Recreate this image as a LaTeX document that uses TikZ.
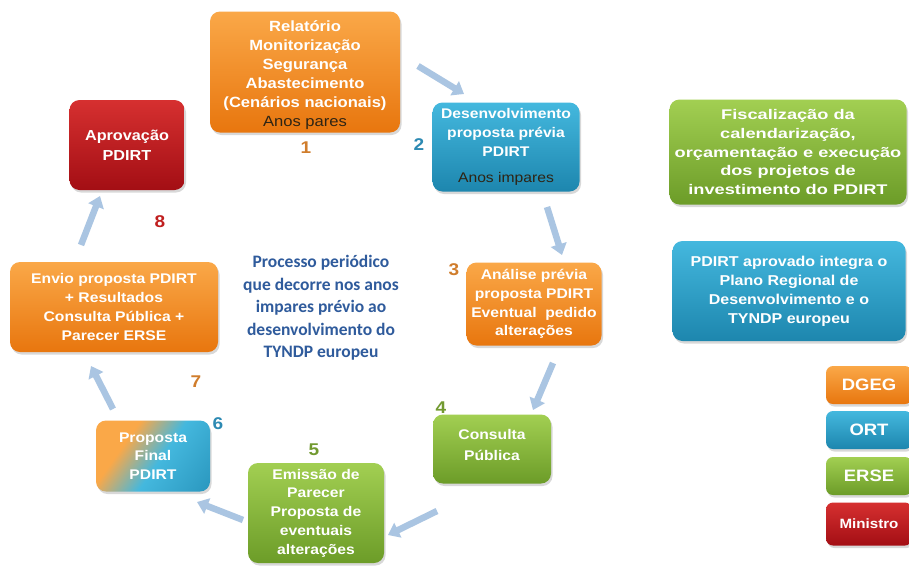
\documentclass[tikz,border=0pt]{standalone}
\usepackage{fontspec}
\setmainfont{Liberation Sans}[FakeStretch=1.12]
\newfontfamily\widefont{Liberation Sans}[FakeStretch=1.3]
\newfontfamily\calfont{Carlito}
\usetikzlibrary{shadows,arrows.meta}

\definecolor{orangetop}{HTML}{FAA848}
\definecolor{orangebot}{HTML}{E8760E}
\definecolor{bluetop}{HTML}{44B8DE}
\definecolor{bluebot}{HTML}{1D86AE}
\definecolor{greentop}{HTML}{A2CF52}
\definecolor{greenbot}{HTML}{6C9C28}
\definecolor{redtop}{HTML}{D63030}
\definecolor{redbot}{HTML}{A30E14}
\definecolor{arrowblue}{HTML}{AAC5E2}
\definecolor{titleblue}{HTML}{2F5B9C}
\definecolor{numorange}{HTML}{D07D2C}
\definecolor{numblue}{HTML}{2D8AB3}
\definecolor{numgreen}{HTML}{729A30}
\definecolor{numred}{HTML}{C01F1F}
\definecolor{darktext}{HTML}{2E2414}

\pgfdeclarehorizontalshading{mixshade}{100bp}{color(0bp)=(orangetop); color(34bp)=(orangetop); color(54bp)=(bluetop); color(100bp)=(bluebot)}

\begin{document}
\begin{tikzpicture}[x=1pt,y=-1pt]

    \tikzset{
      box/.style={
        rounded corners=10pt,
        align=center,
        text=white,
        inner sep=2pt,
        font=\fontsize{14}{18.8}\selectfont\bfseries,
        drop shadow={opacity=0.3,shadow xshift=1.5pt,shadow yshift=-2.5pt},
      },
      dgeg/.style={box, top color=orangetop, bottom color=orangebot},
      ort/.style={box, top color=bluetop, bottom color=bluebot},
      erse/.style={box, top color=greentop, bottom color=greenbot},
      ministro/.style={box, top color=redtop, bottom color=redbot},
      legendbox/.style={rounded corners=7pt, minimum width=86pt, inner sep=1pt},
      numlabel/.style={font=\fontsize{17}{17}\selectfont\bfseries},
      flow/.style={line width=6.5pt, draw=arrowblue, -{Triangle[length=11pt,width=16pt]}},
    }
    \useasboundingbox (0,0) rectangle (909,565);
    \fill[white] (0,0) rectangle (909,565);

	% ciclo
	\node[dgeg, minimum width=190pt, minimum height=121pt, font=\fontsize{14.8}{19}\selectfont\bfseries] (relatorio) at (305,72) {};
	\node[text=white, align=center, font=\fontsize{14.8}{19}\selectfont\bfseries] (relatoriotxt) at (305,75)
	  {Relatório\\Monitorização\\Segurança\\Abastecimento\\(Cenários nacionais)\\{\mdseries\color{darktext}Anos pares}};
	\node[ort, minimum width=147pt, minimum height=89pt] (desenv) at (506,147)
	  {Desenvolvimento\\proposta prévia\\PDIRT\\[7pt]{\mdseries\color{darktext}Anos impares}};
	\node[dgeg, minimum width=135pt, minimum height=83pt] (analise) at (534,304)
	  {Análise prévia\\proposta PDIRT\\Eventual\ \ pedido\\alterações};
	\node[erse, minimum width=118pt, minimum height=69pt, font=\fontsize{14}{21}\selectfont\bfseries] (consulta) at (492,449) {};
	\node[text=white, align=center, font=\fontsize{14}{21}\selectfont\bfseries] (consultatxt) at (492,445)
	  {Consulta\\Pública};
	\node[erse, minimum width=136pt, minimum height=100pt] (emissao) at (316,513)
	  {Emissão de\\Parecer\\Proposta de\\eventuais\\alterações};
	\node[box, shading=mixshade, shading angle=-35, minimum width=114pt, minimum height=71pt] (final) at (153,456)
	  {Proposta\\Final\\PDIRT};
	\node[dgeg, minimum width=208pt, minimum height=90pt] (envio) at (114,307)
	  {Envio proposta PDIRT\\+ Resultados\\Consulta Pública +\\Parecer ERSE};
	\node[ministro, minimum width=115pt, minimum height=90pt, font=\fontsize{14.5}{20}\selectfont\bfseries] (aprovacao) at (127,145)
	  {Aprovação\\PDIRT};

	\node[align=center, text=titleblue, font=\calfont\fontsize{17.5}{22.5}\selectfont\bfseries] (processo) at (321,308)
	  {Processo periódico\\que decorre nos anos\\impares prévio ao\\desenvolvimento do\\TYNDP europeu};

	% numeros
	\node[numlabel, text=numorange] (n1) at (306,148) {1};
	\node[numlabel, text=numblue] (n2) at (419,145) {2};
	\node[numlabel, text=numorange] (n3) at (454,270) {3};
	\node[numlabel, text=numgreen] (n4) at (441,408) {4};
	\node[numlabel, text=numgreen] (n5) at (314,450) {5};
	\node[numlabel, text=numblue] (n6) at (218,424) {6};
	\node[numlabel, text=numorange] (n7) at (196,382) {7};
	\node[numlabel, text=numred] (n8) at (160,222) {8};

	% setas
	\coordinate (s12) at (418,66);   \coordinate (e12) at (464,94);
	\coordinate (s23) at (547,207);  \coordinate (e23) at (562,255);
	\coordinate (s34) at (553,363);  \coordinate (e34) at (533,410);
	\coordinate (s45) at (437,511);  \coordinate (e45) at (388,535);
	\coordinate (s56) at (243,520);  \coordinate (e56) at (197,502);
	\coordinate (s67) at (113,409);  \coordinate (e67) at (91,366);
	\coordinate (s78) at (81,245);   \coordinate (e78) at (100,196);
	\foreach \a/\b in {s12/e12,s23/e23,s34/e34,s45/e45,s56/e56,s67/e67,s78/e78}
	  \draw[flow] (\a) -- (\b);

	% caixas da direita
	\node[erse, minimum width=237pt, minimum height=105pt, font=\widefont\fontsize{14}{18.8}\selectfont\bfseries] (fiscal) at (788,152)
	  {Fiscalização da\\calendarização,\\orçamentação e execução\\dos projetos de\\investimento do PDIRT};
	\node[ort, minimum width=233pt, minimum height=100pt, font=\fontsize{14.3}{19}\selectfont\bfseries] (integra) at (789,291)
	  {PDIRT aprovado integra o\\Plano Regional de\\Desenvolvimento e o\\TYNDP europeu};

	% legenda
	\node[dgeg, legendbox, minimum height=38pt, font=\fontsize{16.5}{16}\selectfont\bfseries] (dgeg) at (869,385) {DGEG};
	\node[ort, legendbox, minimum height=38pt, font=\fontsize{16.5}{16}\selectfont\bfseries] (ort) at (869,430) {ORT};
	\node[erse, legendbox, minimum height=38pt, font=\fontsize{16.5}{16}\selectfont\bfseries] (erse) at (869,476) {ERSE};
	\node[ministro, legendbox, minimum height=43pt, font=\fontsize{13.5}{13}\selectfont\bfseries] (ministro) at (869,524) {Ministro};

\end{tikzpicture}
\end{document}
